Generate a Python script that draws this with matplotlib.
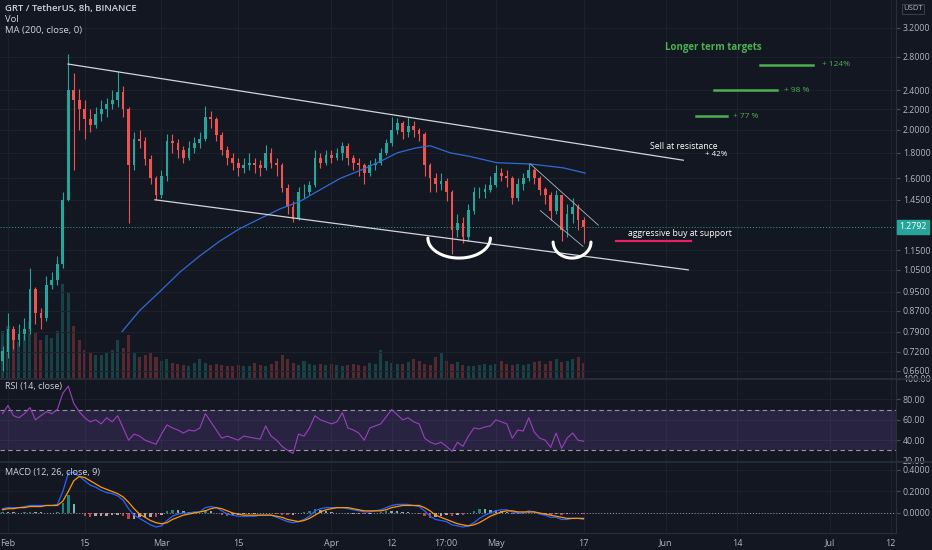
import numpy as np
import matplotlib
matplotlib.use('Agg')
import matplotlib.pyplot as plt
import matplotlib.transforms as mtransforms
from matplotlib.ticker import FixedLocator, NullLocator, FixedFormatter

plt.rcParams['font.family'] = ['Open Sans', 'DejaVu Sans']

BG = '#131722'
GRID = '#1e222d'
TXT = '#b2b5be'
UP = '#26a69a'
DN = '#ef5350'

# ---------------- data (day index: 0 = Feb 1) ----------------
close = [0.72, 0.80, 0.76, 0.78, 0.80, 0.96, 0.86, 0.84, 0.98, 1.00,
         1.08, 1.45, 2.40, 2.30, 2.20, 2.10, 2.05, 2.15, 2.20, 2.25,
         2.30, 2.38, 2.20, 1.70, 1.92, 1.90, 1.75, 1.60, 1.48, 1.62,
         1.90, 1.88, 1.82, 1.76, 1.84, 1.88, 1.92, 2.12, 2.10, 1.95,
         1.82, 1.76, 1.72, 1.68, 1.70, 1.72, 1.70, 1.68, 1.80, 1.72,
         1.70, 1.53, 1.40, 1.33, 1.50, 1.50, 1.55, 1.76, 1.72, 1.78,
         1.76, 1.80, 1.86, 1.76, 1.72, 1.70, 1.64, 1.70, 1.72, 1.80,
         1.88, 2.00, 2.06, 1.98, 2.04, 2.00, 1.96, 1.70, 1.60, 1.56,
         1.58, 1.50, 1.26, 1.30, 1.22, 1.38, 1.50, 1.50, 1.52, 1.55,
         1.64, 1.62, 1.60, 1.46, 1.56, 1.60, 1.66, 1.60, 1.52, 1.48,
         1.38, 1.48, 1.26, 1.36, 1.40, 1.32, 1.2792]
high = [0.74, 0.86, 0.81, 0.82, 0.84, 1.06, 0.97, 0.88, 1.02, 1.04,
        1.12, 1.50, 2.84, 2.60, 2.42, 2.30, 2.20, 2.22, 2.30, 2.32,
        2.40, 2.62, 2.45, 2.22, 1.98, 2.00, 1.94, 1.78, 1.62, 1.66,
        1.96, 1.96, 1.92, 1.86, 1.90, 1.94, 1.98, 2.23, 2.18, 2.12,
        1.98, 1.86, 1.80, 1.76, 1.76, 1.80, 1.76, 1.74, 1.87, 1.84,
        1.76, 1.72, 1.56, 1.44, 1.54, 1.56, 1.58, 1.82, 1.80, 1.82,
        1.82, 1.84, 1.89, 1.88, 1.78, 1.76, 1.72, 1.74, 1.76, 1.84,
        1.92, 2.12, 2.11, 2.08, 2.12, 2.08, 2.02, 1.98, 1.72, 1.64,
        1.64, 1.60, 1.52, 1.36, 1.34, 1.42, 1.54, 1.54, 1.56, 1.62,
        1.70, 1.68, 1.66, 1.62, 1.60, 1.64, 1.72, 1.68, 1.62, 1.54,
        1.50, 1.52, 1.48, 1.42, 1.46, 1.42, 1.34]
low = [0.66, 0.70, 0.73, 0.74, 0.76, 0.78, 0.82, 0.80, 0.83, 0.96,
       0.98, 1.06, 1.44, 1.66, 2.00, 1.92, 1.98, 2.02, 2.08, 2.12,
       2.20, 2.22, 2.12, 1.30, 1.66, 1.84, 1.70, 1.56, 1.45, 1.46,
       1.58, 1.80, 1.76, 1.72, 1.74, 1.80, 1.84, 1.90, 2.02, 1.90,
       1.78, 1.70, 1.66, 1.62, 1.64, 1.66, 1.64, 1.62, 1.66, 1.68,
       1.62, 1.50, 1.36, 1.31, 1.32, 1.46, 1.48, 1.54, 1.68, 1.70,
       1.72, 1.74, 1.74, 1.70, 1.66, 1.62, 1.56, 1.62, 1.66, 1.70,
       1.78, 1.86, 1.96, 1.92, 1.94, 1.94, 1.90, 1.62, 1.50, 1.50,
       1.52, 1.44, 1.13, 1.22, 1.19, 1.20, 1.36, 1.46, 1.46, 1.50,
       1.54, 1.58, 1.54, 1.42, 1.44, 1.52, 1.58, 1.56, 1.48, 1.42,
       1.32, 1.36, 1.20, 1.22, 1.30, 1.26, 1.19]
first_open = 0.69
volume = [50, 55, 40, 38, 45, 60, 48, 40, 45, 42,
          50, 100, 90, 55, 40, 30, 26, 24, 24, 26,
          30, 40, 32, 45, 28, 22, 24, 26, 22, 18,
          20, 16, 15, 14, 13, 16, 20, 16, 14, 15,
          14, 13, 13, 14, 13, 13, 16, 14, 13, 15,
          18, 24, 20, 16, 14, 18, 15, 14, 15, 14,
          15, 14, 13, 14, 15, 14, 13, 16, 15, 30,
          18, 16, 15, 15, 17, 20, 18, 15, 14, 22,
          26, 18, 15, 17, 14, 13, 13, 14, 15, 14,
          15, 18, 15, 14, 15, 14, 15, 17, 18, 15,
          18, 20, 17, 18, 20, 22, 16]
ma_days = [20.8, 24, 27.7, 31.4, 35, 38.7, 42.3, 46, 49.6, 53.3, 57, 60.6,
           64.8, 67.9, 71, 74.3, 77, 80.7, 84.3, 89.2, 95.3, 101.3, 105.3]
ma_vals = [0.79, 0.87, 0.95, 1.04, 1.12, 1.20, 1.27, 1.33, 1.39, 1.44, 1.52, 1.60,
           1.67, 1.73, 1.80, 1.84, 1.86, 1.80, 1.77, 1.72, 1.71, 1.68, 1.64]
rsi = [66, 74, 64, 62, 66, 72, 60, 64, 68, 66,
       70, 86, 93, 76, 68, 62, 58, 60, 56, 62,
       58, 64, 52, 40, 46, 44, 40, 38, 36, 46,
       55, 52, 50, 47, 50, 49, 52, 66, 58, 50,
       42, 44, 42, 40, 44, 43, 42, 41, 54, 44,
       40, 34, 30, 27, 46, 44, 52, 64, 60, 58,
       56, 58, 67, 52, 50, 47, 40, 52, 54, 56,
       63, 70, 65, 60, 62, 58, 56, 42, 38, 36,
       38, 34, 29, 38, 34, 44, 52, 51, 53, 54,
       60, 58, 56, 42, 50, 49, 62, 48, 42, 40,
       33, 47, 32, 42, 47, 40, 39]
macd = [0.04, 0.05, 0.05, 0.05, 0.06, 0.07, 0.07, 0.07, 0.07, 0.07,
        0.08, 0.20, 0.37, 0.38, 0.34, 0.30, 0.26, 0.24, 0.21, 0.19,
        0.18, 0.16, 0.12, 0.04, -0.02, -0.05, -0.08, -0.11, -0.13, -0.12,
        -0.07, -0.03, -0.01, 0.00, 0.00, 0.01, 0.01, 0.05, 0.06, 0.05,
        0.02, -0.01, -0.02, -0.03, -0.03, -0.03, -0.03, -0.02, -0.02, -0.02,
        -0.04, -0.06, -0.08, -0.09, -0.08, -0.06, -0.03, 0.02, 0.04, 0.05,
        0.05, 0.05, 0.05, 0.04, 0.03, 0.02, 0.01, 0.01, 0.02, 0.03,
        0.05, 0.07, 0.08, 0.08, 0.08, 0.07, 0.06, 0.02, -0.03, -0.06,
        -0.07, -0.08, -0.11, -0.12, -0.13, -0.12, -0.09, -0.05, -0.02, 0.00,
        0.02, 0.03, 0.03, 0.01, 0.00, 0.00, 0.02, 0.01, -0.01, -0.02,
        -0.04, -0.04, -0.06, -0.06, -0.05, -0.05, -0.06]
signal = [0.03, 0.04, 0.04, 0.05, 0.05, 0.06, 0.06, 0.06, 0.07, 0.07,
          0.07, 0.11, 0.20, 0.30, 0.34, 0.33, 0.30, 0.27, 0.24, 0.22,
          0.20, 0.18, 0.15, 0.10, 0.04, -0.01, -0.04, -0.07, -0.09, -0.10,
          -0.09, -0.06, -0.04, -0.02, -0.01, 0.00, 0.01, 0.02, 0.04, 0.05,
          0.04, 0.02, 0.00, -0.01, -0.02, -0.02, -0.02, -0.02, -0.02, -0.02,
          -0.03, -0.04, -0.06, -0.07, -0.08, -0.07, -0.05, -0.02, 0.01, 0.03,
          0.04, 0.05, 0.05, 0.05, 0.04, 0.03, 0.02, 0.02, 0.02, 0.02,
          0.03, 0.05, 0.06, 0.07, 0.07, 0.07, 0.07, 0.05, 0.02, -0.02,
          -0.04, -0.06, -0.08, -0.10, -0.11, -0.12, -0.11, -0.09, -0.06, -0.03,
          -0.01, 0.01, 0.02, 0.02, 0.01, 0.01, 0.01, 0.01, 0.00, -0.01,
          -0.02, -0.03, -0.04, -0.05, -0.05, -0.05, -0.05]

xtick_pos = [0, 14, 28, 42, 59, 70, 79.9, 89, 105, 120, 133, 150, 161]
xtick_lbl = ['Feb', '15', 'Mar', '15', 'Apr', '12', '17:00', 'May', '17', 'Jun', '14', 'Jul', '12']
price_ticks = [3.2, 2.8, 2.4, 2.2, 2.0, 1.8, 1.6, 1.45, 1.15, 1.05, 0.95, 0.87, 0.79, 0.72, 0.66]
rsi_ticks = [100, 80, 60, 40, 20]
macd_ticks = [0.4, 0.2, 0.0]

# drawings (day, price)
upper_chan = ([10.95, 123.2], [2.71, 1.74])
lower_chan = ([26.8, 124.1], [1.45, 1.05])
small_up = ([95.3, 107.7], [1.71, 1.29])
small_lo = ([97.1, 104.9], [1.38, 1.17])
targets = [([137.2, 146.9], 2.70, '+ 124%', 148.5),
           ([128.8, 140.3], 2.40, '+ 98 %', 141.6),
           ([125.5, 131.2], 2.13, '+ 77 %', 132.3)]
support_line = ([110.9, 124.6], 1.20)
last_price = 1.2792

# ---------------- figure ----------------
n = len(close)
days = np.arange(-1, -1 + n)
opn = np.array([first_open] + close[:-1])
cl = np.array(close)
hi = np.array(high)
lo = np.array(low)

fig = plt.figure(figsize=(9.32, 5.5), dpi=100, facecolor=BG)
W = 896 / 932
ax_p = fig.add_axes([0, 172 / 550, W, 378 / 550])
ax_v = ax_p.twinx()
ax_r = fig.add_axes([0, 89 / 550, W, 82 / 550])
ax_m = fig.add_axes([0, 17 / 550, W, 70 / 550])

XL = (-1.46, 162.0)
for ax in (ax_p, ax_r, ax_m):
    ax.set_facecolor(BG)
    ax.set_xlim(*XL)
    for s in ('top', 'left', 'bottom'):
        ax.spines[s].set_visible(False)
    ax.spines['right'].set_color('#2a2e39')
    ax.spines['right'].set_linewidth(0.8)
    ax.set_xticks(xtick_pos)
    ax.grid(True, color=GRID, lw=0.7)
    ax.set_axisbelow(True)

# volume (behind)
ax_v.set_zorder(ax_p.get_zorder() - 1)
ax_p.patch.set_visible(False)
ax_v.patch.set_visible(True)
ax_v.patch.set_facecolor(BG)
vcol = [UP if c >= o else DN for o, c in zip(opn, cl)]
ax_v.bar(days, volume, width=0.55, color=vcol, alpha=0.3, lw=0)
ax_v.set_ylim(0, max(volume) * 4.0)
ax_v.set_xlim(*XL)
ax_v.axis('off')

# candles
ax_p.set_yscale('log')
ax_p.set_ylim(0.638, 3.64)
ccol = [UP if c >= o else DN for o, c in zip(opn, cl)]
ax_p.vlines(days, lo, hi, colors=ccol, lw=0.8, zorder=3)
ax_p.bar(days, np.abs(cl - opn) + 1e-3, bottom=np.minimum(cl, opn), width=0.5,
         color=ccol, lw=0, zorder=4)
ax_p.plot(ma_days, ma_vals, color='#2f6bd0', lw=0.9, zorder=5)

ax_p.yaxis.tick_right()
ax_p.yaxis.set_major_locator(FixedLocator(price_ticks))
ax_p.yaxis.set_minor_locator(NullLocator())
ax_p.yaxis.set_major_formatter(FixedFormatter(['%.4f' % v for v in price_ticks]))
ax_p.tick_params(axis='y', colors='#4a4e5a', labelcolor=TXT, labelsize=6.3, length=3, pad=2)
ax_p.tick_params(axis='x', labelbottom=False, length=0)

# drawings
ax_p.plot(*upper_chan, color='#d1d4dc', lw=0.9, zorder=6)
ax_p.plot(*lower_chan, color='#d1d4dc', lw=0.9, zorder=6)
ax_p.plot(*small_up, color='#b2b5be', lw=0.6, zorder=6)
ax_p.plot(*small_lo, color='#b2b5be', lw=0.6, zorder=6)
ax_p.axhline(last_price, color=UP, lw=0.7, ls=(0, (1, 2)), zorder=2)

t = np.linspace(0, np.pi, 60)
for cx, cy_px, rx, ry_px in [(82.3, 238, 5.7, 20), (102.9, 242, 3.45, 16)]:
    cln = 1.163 - (cy_px - 28) / 217.0
    ry = ry_px / 217.0
    ax_p.plot(cx + rx * np.cos(t), np.exp(cln - ry * np.sin(t)), color='white', lw=2.2,
              solid_capstyle='round', zorder=7)

GREEN = '#4caf50'
for xs, yv, lbl, tx in targets:
    ax_p.plot(xs, [yv, yv], color=GREEN, lw=1.8, zorder=6)
    ax_p.text(tx, yv, lbl, color=GREEN, fontsize=6, va='center', ha='left')
ax_p.text(128.6, 2.92, 'Longer term targets', color=GREEN, fontsize=7, fontweight='bold',
          ha='center', va='center')
ax_p.text(117.2, 1.85, 'Sell at resistance', color='white', fontsize=6.2, ha='left', va='center')
ax_p.text(127.2, 1.79, '+ 42%', color='white', fontsize=5.8, ha='left', va='center')
ax_p.plot(support_line[0], [support_line[1]] * 2, color='#e91e63', lw=1.6, zorder=6)
ax_p.text(113.1, 1.24, 'aggressive buy at support', color='white', fontsize=6.2,
          ha='left', va='center')

# last price label and currency
tr = mtransforms.blended_transform_factory(ax_p.transAxes, ax_p.transData)
ax_p.text(1.004, last_price, '1.2792', transform=tr, color='white', fontsize=6.3,
          ha='left', va='center', clip_on=False, zorder=20,
          bbox=dict(boxstyle='square,pad=0.25', fc=UP, ec=UP))
fig.text(913 / 932, 1 - 9 / 550, 'USDT', color=TXT, fontsize=5.5, ha='center', va='center',
         bbox=dict(boxstyle='square,pad=0.2', fc=BG, ec='#434651', lw=0.6), zorder=20)

# legend texts
fig.text(5 / 932, 1 - 9 / 550, 'GRT / TetherUS, 8h, BINANCE', color='#d1d4dc', fontsize=6.8,
         fontweight='semibold', va='center')
fig.text(5 / 932, 1 - 20 / 550, 'Vol', color='#d1d4dc', fontsize=6.8, va='center')
fig.text(5 / 932, 1 - 31 / 550, 'MA (200, close, 0)', color='#d1d4dc', fontsize=6.8, va='center')
fig.text(5 / 932, 1 - 387 / 550, 'RSI (14, close)', color='#d1d4dc', fontsize=6.5, va='center')
fig.text(5 / 932, 1 - 472 / 550, 'MACD (12, 26, close, 9)', color='#d1d4dc', fontsize=6.5, va='center')

# RSI
ax_r.set_ylim(19.6, 99.8)
ax_r.axhspan(30, 70, color='#7e57c2', alpha=0.2, lw=0)
ax_r.axhline(70, color='#9598a1', lw=0.8, ls=(0, (4, 3)))
ax_r.axhline(30, color='#9598a1', lw=0.8, ls=(0, (4, 3)))
ax_r.plot(days, rsi, color='#9c3fc0', lw=0.8)
ax_r.yaxis.tick_right()
ax_r.set_yticks(rsi_ticks)
ax_r.set_yticklabels(['%.2f' % v for v in rsi_ticks])
ax_r.tick_params(axis='y', colors='#4a4e5a', labelcolor=TXT, labelsize=6.3, length=3, pad=2)
ax_r.tick_params(axis='x', labelbottom=False, length=0)

# MACD
hist = np.array(macd) - np.array(signal)
hcol = []
for i, h in enumerate(hist):
    prev = hist[i - 1] if i > 0 else 0
    if h >= 0:
        hcol.append('#26a69a' if h > prev else '#b2dfdb')
    else:
        hcol.append('#ff5252' if h < prev else '#ffcdd2')
ax_m.set_ylim(-0.186, 0.465)
ax_m.axhline(0, color='#9598a1', lw=0.7, ls=(0, (1, 2)))
ax_m.bar(days, hist, width=0.45, color=hcol, lw=0, alpha=0.75)
ax_m.plot(days, macd, color='#2962ff', lw=0.9)
ax_m.plot(days, signal, color='#ff9800', lw=0.9)
ax_m.yaxis.tick_right()
ax_m.set_yticks(macd_ticks)
ax_m.set_yticklabels(['%.4f' % v for v in macd_ticks])
ax_m.tick_params(axis='y', colors='#4a4e5a', labelcolor=TXT, labelsize=6.3, length=3, pad=2)
ax_m.set_xticklabels(xtick_lbl)
ax_m.tick_params(axis='x', colors=TXT, labelsize=6.5, length=0, pad=4)

# panel separators
for yy in (378.5, 462):
    fig.add_artist(plt.Line2D([0, 1], [1 - yy / 550] * 2, color='#2a2e39', lw=1.2))
fig.add_artist(plt.Line2D([0, W], [17 / 550] * 2, color='#2a2e39', lw=0.8))

fig.savefig('out.png', dpi=100, facecolor=BG)
